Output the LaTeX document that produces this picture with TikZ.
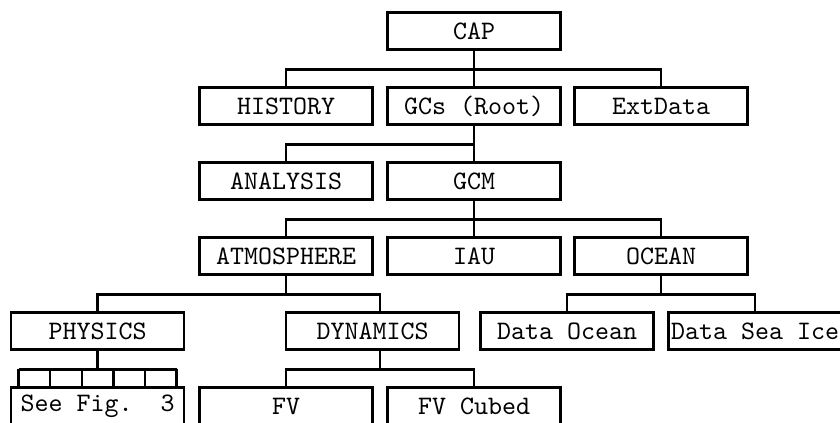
\documentclass[tikz,border=0pt]{standalone}
\usepackage{tikz}
\usetikzlibrary{calc, positioning}

\begin{document}
\begin{tikzpicture}[x=0.375pt, y=-0.375pt]
    \tikzstyle{every node} = [font=\ttfamily]
    \tikzstyle{block} = [draw, rectangle, line width=0.9pt, minimum width=65cm/28.45, minimum height=14pt, inner sep=0pt]
    \tikzstyle{branch} = [line width=0.9pt]
    \useasboundingbox (0,0) rectangle (840,422);
    \clip (0,0) rectangle (840,422);

    % place nodes
    \node[block](cap) at (474,31){CAP};

    \node[block](history) at (286,106){HISTORY};
    \node[block](gcsroot) at (474,106){GCs (Root)};
    \node[block](extdata) at (661,106){ExtData};

    \node[block](analysis) at (286,181){ANALYSIS};
    \node[block](gcm) at (474,181){GCM};

    \node[block](atmosphere) at (286,256){ATMOSPHERE};
    \node[block](iau) at (474,256){IAU};
    \node[block](ocean) at (661,256){OCEAN};

    \node[block](physics) at (97.5,331){PHYSICS};
    \node[block](dynamics) at (372.5,331){DYNAMICS};
    \node[block](dataocean) at (567,331){Data Ocean};
    \node[block](dataseaice) at (755,331){Data Sea Ice};

    \node[block](seefig) at (97.5,406){See Fig.\ \ 3};
    \node[block](fv) at (286,406){FV};
    \node[block](fvcubed) at (474,406){FV Cubed};

    % Connections
    \draw[branch] (cap.south)--++(0,18.5) coordinate (capbranch);
    \draw[branch] (history.north)|-(capbranch)-|(extdata.north);
    \draw[branch] (gcsroot.north)--(capbranch);

    \draw[branch] (gcsroot.south)--++(0,18.5) coordinate (gcsbranch);
    \draw[branch] (analysis.north)|-(gcsbranch)--(gcm.north);

    \draw[branch] (gcm.south)--++(0,18.5) coordinate (gcmbranch);
    \draw[branch] (atmosphere.north)|-(gcmbranch)-|(ocean.north);
    \draw[branch] (iau.north)--(gcmbranch);

    \draw[branch] (atmosphere.south)--++(0,18.5) coordinate (atmbranch);
    \draw[branch] (physics.north)|-(atmbranch)-|([xshift=2.8pt]dynamics.north);

    \draw[branch] (ocean.south)--++(0,18.5) coordinate (oceanbranch);
    \draw[branch] (dataocean.north)|-(oceanbranch)-|(dataseaice.north);

    \draw[branch] (physics.south)--++(0,18.5) coordinate (physbranch);
    \draw[branch] ($(physbranch)+(-79,0)$)--($(physbranch)+(79,0)$);
    \foreach \dx in {-79,-47.4,-15.8,15.8,47.4,79}
      \draw[branch] ($(physbranch)+(\dx,0)$)--($(seefig.north)+(\dx,0)$);

    \draw[branch] ([xshift=2.8pt]dynamics.south)--++(0,18.5) coordinate (dynbranch);
    \draw[branch] (fv.north)|-(dynbranch)-|(fvcubed.north);
  \end{tikzpicture}
\end{document}
